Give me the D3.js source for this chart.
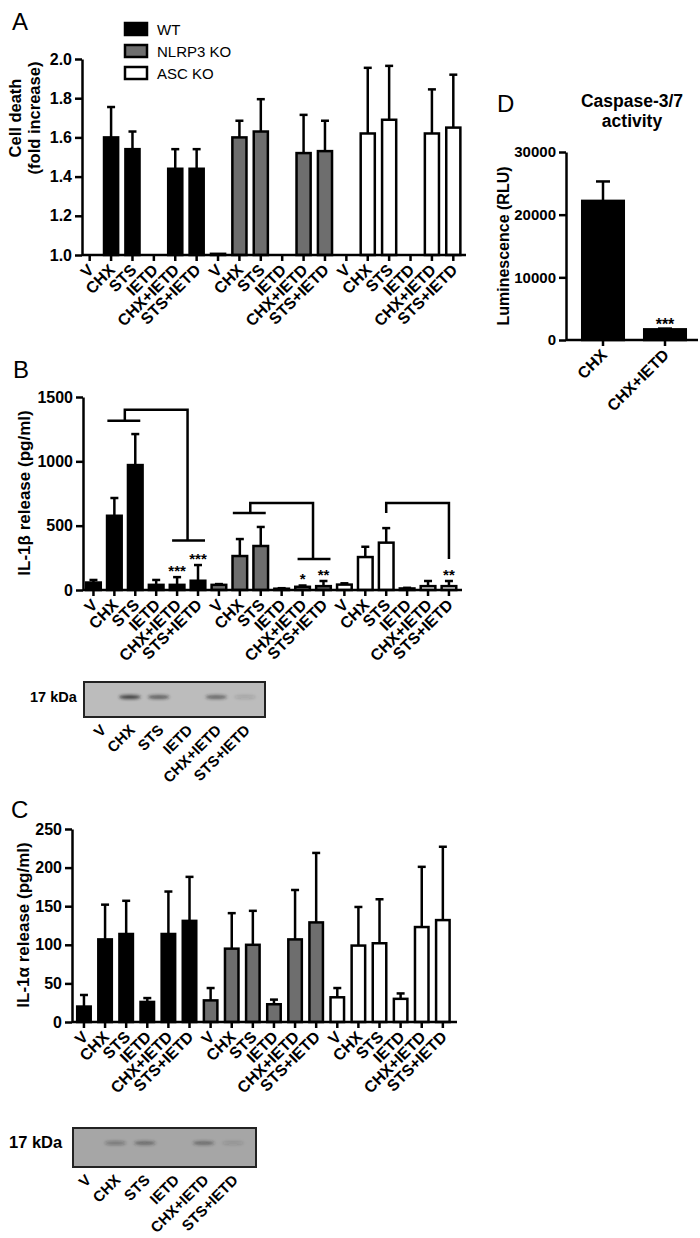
<!DOCTYPE html>
<html><head><meta charset="utf-8">
<script src="https://cdn.jsdelivr.net/npm/d3@7"></script>
<style>body{margin:0;background:#fff}svg{display:block}</style>
</head><body><svg id="chart" width="700" height="1238"></svg>
<script>
// ---------------- DATA ----------------
const categories = ["V","CHX","STS","IETD","CHX+IETD","STS+IETD"];
const genotypes = ["WT","NLRP3 KO","ASC KO"];

// Panel A: cell death (fold increase), mean and SEM
const cellDeathWT    = [1.0, 1.60, 1.54, 1.0, 1.44, 1.44];
const cellDeathNLRP3 = [1.006, 1.60, 1.63, 1.0, 1.52, 1.53];
const cellDeathASC   = [1.0, 1.62, 1.69, 1.0, 1.62, 1.65];
const cellDeathSemWT    = [0, 0.155, 0.09, 0, 0.10, 0.10];
const cellDeathSemNLRP3 = [0, 0.085, 0.165, 0, 0.195, 0.155];
const cellDeathSemASC   = [0, 0.335, 0.275, 0, 0.225, 0.27];
const cellDeathTicks = [1.0, 1.2, 1.4, 1.6, 1.8, 2.0];

// Panel B: IL-1beta release (pg/ml)
const il1bWT    = [58, 577, 971, 40, 40, 72];
const il1bNLRP3 = [40, 264, 342, 10, 25, 30];
const il1bASC   = [42, 256, 368, 12, 30, 30];
const il1bSemWT    = [20, 138, 241, 38, 60, 122];
const il1bSemNLRP3 = [6, 132, 148, 4, 10, 40];
const il1bSemASC   = [10, 80, 113, 5, 40, 40];
const il1bTicks = [0, 500, 1000, 1500];
// significance brackets: genotype, left group categories, right group categories, levels (pg/ml)
const il1bBrackets = [
  {g: 0, left: [1, 2], right: [4, 5], leftLevel: 1315, topLevel: 1400, rightLevel: 385},
  {g: 1, left: [1, 2], right: [4, 5], leftLevel: 598, topLevel: 676, rightLevel: 241},
  {g: 2, left: [2], right: [5], leftLevel: 598, topLevel: 676, rightLevel: 241}
];
const il1bStars = [
  {g: 0, c: 4, label: "***"}, {g: 0, c: 5, label: "***"},
  {g: 1, c: 4, label: "*"}, {g: 1, c: 5, label: "**"},
  {g: 2, c: 5, label: "**"}
];

// Panel C: IL-1alpha release (pg/ml)
const il1aWT    = [20, 107, 114, 26, 114, 131];
const il1aNLRP3 = [28, 95, 100, 23, 107, 129];
const il1aASC   = [32, 99, 102, 30, 123, 132];
const il1aSemWT    = [15, 45, 43, 5, 55, 57];
const il1aSemNLRP3 = [16, 46, 44, 6, 64, 90];
const il1aSemASC   = [12, 50, 57, 7, 78, 95];
const il1aTicks = [0, 50, 100, 150, 200, 250];

// Panel D: caspase-3/7 activity (RLU)
const caspaseCats = ["CHX", "CHX+IETD"];
const caspaseMean = [22200, 1700];
const caspaseSem  = [3100, 120];
const caspaseTicks = [0, 10000, 20000, 30000];
const caspaseStars = ["", "***"];

// Western blots: relative band intensity per lane (17 kDa)
const blotIL1b = [0, 0.8, 0.6, 0, 0.55, 0.15];
const blotIL1a = [0, 0.35, 0.45, 0, 0.45, 0.15];

// ---------------- DRAWING ----------------
const FONT = '"Liberation Sans", Arial, Helvetica, sans-serif';
const fills = ["#000000", "#6e6e6e", "#ffffff"];
const svg = d3.select("#chart").attr("font-family", FONT);
svg.append("rect").attr("width", 700).attr("height", 1238).attr("fill", "#fff");

const defs = svg.append("defs");
defs.append("filter").attr("id", "blur").attr("x", "-50%").attr("y", "-150%").attr("width", "200%").attr("height", "400%")
  .append("feGaussianBlur").attr("stdDeviation", 1.5);

function yAxis(scale, x, ticks, fmt, size) {
  const ax = d3.axisLeft(scale).tickValues(ticks).tickFormat(fmt).tickSize(7).tickSizeOuter(0).tickPadding(3);
  const g = svg.append("g").attr("transform", `translate(${x},0)`).call(ax)
    .attr("font-family", FONT).attr("font-size", size || 16).attr("font-weight", "bold");
  g.select(".domain").attr("stroke", "#000").attr("stroke-width", 2.5);
  g.selectAll(".tick line").attr("stroke", "#000").attr("stroke-width", 2.5);
  g.selectAll(".tick text").attr("fill", "#000");
  return g;
}

function rotatedLabels(items, baseY, size) {
  svg.append("g").selectAll("text").data(items).join("text")
    .attr("transform", d => `translate(${d.x},${baseY}) rotate(-45)`)
    .attr("text-anchor", "end")
    .attr("font-size", size).attr("font-weight", "bold")
    .text(d => d.label);
}

function yTitle(lines, x0, cy, size) {
  lines.forEach((t, i) => {
    svg.append("text").attr("transform", `translate(${x0[i]},${cy}) rotate(-90)`)
      .attr("text-anchor", "middle").attr("font-size", size).attr("font-weight", "bold").text(t);
  });
}

function barPanel(cfg) {
  const keys = [];
  genotypes.forEach((g, gi) => categories.forEach((c, ci) => keys.push(gi + "|" + ci)));
  const x = d3.scaleBand().domain(keys).range(cfg.xRange).paddingInner(cfg.pad).paddingOuter(cfg.pad / 2);
  const y = d3.scaleLinear().domain(cfg.domain).range(cfg.yRange);
  const base = cfg.domain[0];
  const rows = [];
  cfg.means.forEach((arr, gi) => arr.forEach((v, ci) =>
    rows.push({gi, ci, key: gi + "|" + ci, v, e: cfg.sems[gi][ci]})));
  const cx = d => x(d.key) + x.bandwidth() / 2;
  const g = svg.append("g");
  const eb = rows.filter(d => d.e > 0);
  g.selectAll(".err").data(eb).join("line")
    .attr("x1", cx).attr("x2", cx).attr("y1", d => y(d.v)).attr("y2", d => y(d.v + d.e))
    .attr("stroke", "#000").attr("stroke-width", 2.5);
  g.selectAll(".cap").data(eb).join("line")
    .attr("x1", d => cx(d) - 4).attr("x2", d => cx(d) + 4)
    .attr("y1", d => y(d.v + d.e)).attr("y2", d => y(d.v + d.e))
    .attr("stroke", "#000").attr("stroke-width", 2.5);
  g.selectAll(".bar").data(rows).join("rect")
    .attr("x", d => x(d.key)).attr("width", x.bandwidth())
    .attr("y", d => y(d.v)).attr("height", d => y(base) - y(d.v))
    .attr("fill", d => fills[d.gi]).attr("stroke", "#000").attr("stroke-width", 2.5);
  // x axis
  const axY = cfg.yRange[0];
  svg.append("line").attr("x1", cfg.axisX[0]).attr("x2", cfg.axisX[1]).attr("y1", axY).attr("y2", axY)
    .attr("stroke", "#000").attr("stroke-width", 2.5);
  svg.append("g").selectAll("line").data(keys).join("line")
    .attr("x1", k => x(k) + x.bandwidth() / 2).attr("x2", k => x(k) + x.bandwidth() / 2)
    .attr("y1", axY).attr("y2", axY + 6).attr("stroke", "#000").attr("stroke-width", 2.5);
  rotatedLabels(keys.map(k => ({x: x(k) + x.bandwidth() / 2 + 5, label: categories[+k.split("|")[1]]})), axY + 16, 16);
  yAxis(y, cfg.axisX[0], cfg.ticks, cfg.fmt);
  return {x, y, cxOf: (gi, ci) => x(gi + "|" + ci) + x.bandwidth() / 2};
}

function panelLetter(t, x, y) {
  svg.append("text").attr("x", x).attr("y", y).attr("font-size", 24).text(t);
}

// ---- Panel A ----
panelLetter("A", 12, 30);
barPanel({
  xRange: [79, 464], pad: 0.34, domain: [1, 2], yRange: [255, 59], axisX: [82, 466],
  ticks: cellDeathTicks, fmt: d3.format(".1f"),
  means: [cellDeathWT, cellDeathNLRP3, cellDeathASC],
  sems: [cellDeathSemWT, cellDeathSemNLRP3, cellDeathSemASC]
});
yTitle(["Cell death", "(fold increase)"], [21, 40], 118, 16.5);
// legend
const leg = svg.append("g").selectAll("g").data(genotypes).join("g")
  .attr("transform", (d, i) => `translate(125,${23 + i * 22})`);
leg.append("rect").attr("width", 22).attr("height", 12)
  .attr("fill", (d, i) => fills[i]).attr("stroke", "#000").attr("stroke-width", 2.5);
leg.append("text").attr("x", 32).attr("y", 12).attr("font-size", 15).text(d => d);

// ---- Panel D ----
panelLetter("D", 497, 112);
svg.append("text").attr("x", 632).attr("y", 107).attr("text-anchor", "middle")
  .attr("font-size", 17.5).attr("font-weight", "bold").text("Caspase-3/7");
svg.append("text").attr("x", 632).attr("y", 127).attr("text-anchor", "middle")
  .attr("font-size", 17.5).attr("font-weight", "bold").text("activity");
{
  const x = d3.scaleBand().domain(caspaseCats).range([572, 696]).paddingInner(0.33).paddingOuter(0.165);
  const y = d3.scaleLinear().domain([0, 30000]).range([340, 152]);
  const rows = caspaseCats.map((c, i) => ({c, v: caspaseMean[i], e: caspaseSem[i], s: caspaseStars[i]}));
  const cx = d => x(d.c) + x.bandwidth() / 2;
  svg.append("g").selectAll("line").data(rows).join("line")
    .attr("x1", cx).attr("x2", cx).attr("y1", d => y(d.v)).attr("y2", d => y(d.v + d.e))
    .attr("stroke", "#000").attr("stroke-width", 2.5);
  svg.append("g").selectAll("line").data(rows).join("line")
    .attr("x1", d => cx(d) - 7).attr("x2", d => cx(d) + 7).attr("y1", d => y(d.v + d.e)).attr("y2", d => y(d.v + d.e))
    .attr("stroke", "#000").attr("stroke-width", 2.5);
  svg.append("g").selectAll("rect").data(rows).join("rect")
    .attr("x", d => x(d.c)).attr("width", x.bandwidth()).attr("y", d => y(d.v)).attr("height", d => y(0) - y(d.v))
    .attr("fill", "#000").attr("stroke", "#000").attr("stroke-width", 2.5);
  svg.append("g").selectAll("text").data(rows).join("text")
    .attr("x", cx).attr("y", d => y(d.v + d.e) + 1).attr("text-anchor", "middle")
    .attr("font-size", 16).attr("font-weight", "bold").text(d => d.s);
  svg.append("line").attr("x1", 566).attr("x2", 698).attr("y1", 340).attr("y2", 340).attr("stroke", "#000").attr("stroke-width", 2.5);
  svg.append("g").selectAll("line").data(rows).join("line")
    .attr("x1", cx).attr("x2", cx).attr("y1", 340).attr("y2", 346).attr("stroke", "#000").attr("stroke-width", 2.5);
  rotatedLabels(rows.map(d => ({x: cx(d) + 5, label: d.c})), 356, 16);
  yAxis(y, 566, caspaseTicks, d3.format("d"), 15);
  yTitle(["Luminescence (RLU)"], [509], 246, 16);
}

// ---- Panel B ----
panelLetter("B", 13, 378);
{
  const p = barPanel({
    xRange: [83, 459.4], pad: 0.3, domain: [0, 1500], yRange: [590, 397], axisX: [83, 462],
    ticks: il1bTicks, fmt: d3.format("d"),
    means: [il1bWT, il1bNLRP3, il1bASC],
    sems: [il1bSemWT, il1bSemNLRP3, il1bSemASC]
  });
  const bg = svg.append("g").attr("fill", "none").attr("stroke", "#000").attr("stroke-width", 2.5);
  il1bBrackets.forEach(b => {
    const l0 = p.cxOf(b.g, b.left[0]), l1 = p.cxOf(b.g, b.left[b.left.length - 1]);
    const r0 = p.cxOf(b.g, b.right[0]), r1 = p.cxOf(b.g, b.right[b.right.length - 1]);
    const lm = (l0 + l1) / 2, rm = (r0 + r1) / 2;
    if (b.left.length > 1) bg.append("line").attr("x1", l0 - 7).attr("x2", l1 + 5).attr("y1", p.y(b.leftLevel)).attr("y2", p.y(b.leftLevel));
    if (b.right.length > 1) bg.append("line").attr("x1", r0 - 5).attr("x2", r1 + 7).attr("y1", p.y(b.rightLevel)).attr("y2", p.y(b.rightLevel));
    bg.append("path").attr("d", d3.line()([[lm, p.y(b.leftLevel)], [lm, p.y(b.topLevel)], [rm, p.y(b.topLevel)], [rm, p.y(b.rightLevel)]]));
  });
  const means = [il1bWT, il1bNLRP3, il1bASC], sems = [il1bSemWT, il1bSemNLRP3, il1bSemASC];
  svg.append("g").selectAll("text").data(il1bStars).join("text")
    .attr("x", d => p.cxOf(d.g, d.c)).attr("y", d => p.y(means[d.g][d.c] + sems[d.g][d.c]) - 1)
    .attr("text-anchor", "middle").attr("font-size", 15).attr("font-weight", "bold").text(d => d.label);
  yTitle(["IL-1β release (pg/ml)"], [30], 493, 17);
}

// ---- Panel C ----
panelLetter("C", 11, 818);
barPanel({
  xRange: [73.4, 453.4], pad: 0.36, domain: [0, 250], yRange: [1022, 829], axisX: [72, 457],
  ticks: il1aTicks, fmt: d3.format("d"),
  means: [il1aWT, il1aNLRP3, il1aASC],
  sems: [il1aSemWT, il1aSemNLRP3, il1aSemASC]
});
yTitle(["IL-1α release (pg/ml)"], [29], 925, 17);

// ---- Blots ----
function blot(cfg) {
  const lane = d3.scalePoint().domain(categories).range(cfg.lanes);
  const g = svg.append("g");
  g.append("rect").attr("x", cfg.box[0]).attr("y", cfg.box[1]).attr("width", cfg.box[2]).attr("height", cfg.box[3])
    .attr("fill", cfg.bg).attr("stroke", "#222").attr("stroke-width", 2);
  g.append("g").attr("filter", "url(#blur)").selectAll("ellipse").data(categories).join("ellipse")
    .attr("cx", c => lane(c)).attr("cy", cfg.bandY).attr("rx", 11).attr("ry", 2)
    .attr("fill", "#222").attr("opacity", (c, i) => cfg.intensity[i]);
  svg.append("text").attr("x", cfg.labelX).attr("y", cfg.bandY + 5).attr("font-size", cfg.kdaSize)
    .attr("font-weight", "bold").text("17 kDa");
  rotatedLabels(categories.map(c => ({x: lane(c) + 6, label: c})), cfg.box[1] + cfg.box[3] + 14, 15);
}
blot({box: [84, 682, 181, 35], bg: "#bcbcbc", lanes: [101, 245], bandY: 697, intensity: blotIL1b, labelX: 30, kdaSize: 14.5});
blot({box: [73, 1128, 183, 39], bg: "#a6a6a6", lanes: [86, 233], bandY: 1143, intensity: blotIL1a, labelX: 9, kdaSize: 16.5});
</script>
</body></html>
